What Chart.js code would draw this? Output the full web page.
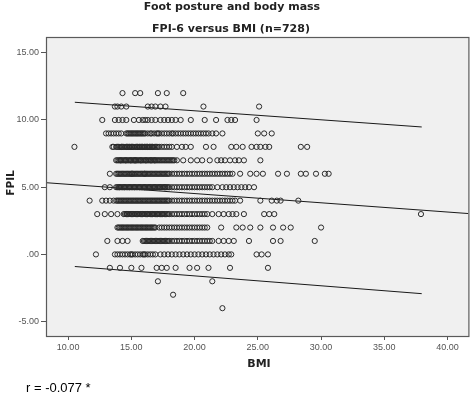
<!DOCTYPE html>
<html>
<head>
<meta charset="utf-8">
<script src="https://cdn.jsdelivr.net/npm/chart.js@4"></script>
<style>
  html, body { margin: 0; padding: 0; background: #ffffff; }
</style>
</head>
<body>
<canvas id="fpiBmiChart" width="472" height="393"></canvas>
<script>
// FPI-6 score levels, top row first
const fpiLevels = [12, 11, 10, 9, 8, 7, 6, 5, 4, 3, 2, 1, 0, -1, -2, -3, -4];

// BMI values
const bmiFpi12 = [14.3, 15.3, 15.7, 17.1, 17.8, 19.1];
const bmiFpi11 = [13.7, 13.9, 14.2, 14.6, 16.3, 16.6, 16.9, 17.3, 17.7, 20.7, 25.1];
const bmiFpi10 = [12.7, 13.7, 14.0, 14.3, 14.6, 15.2, 15.6, 15.9, 16.1, 16.3, 16.6, 16.9, 17.3, 17.6, 17.9,
  18.2, 18.5, 18.9, 19.7, 20.8, 21.7, 22.6, 22.9, 23.2, 24.9];
const bmiFpi9 = [13.0, 13.2, 13.4, 13.6, 13.8, 14.0, 14.2, 14.6, 14.7, 14.8, 14.9, 15.0, 15.1, 15.2, 15.3,
  15.4, 15.5, 15.6, 15.7, 15.8, 15.9, 16.0, 16.1, 16.3, 16.5, 16.6, 16.8, 17.0, 17.1, 17.2, 17.4, 17.6,
  17.8, 18.0, 18.2, 18.3, 18.5, 18.7, 18.9, 19.1, 19.3, 19.5, 19.7, 19.9, 20.1, 20.3, 20.5, 20.7, 20.9,
  21.1, 21.4, 21.7, 22.2, 25.0, 25.5, 26.1];
const bmiFpi8 = [10.5, 13.5, 13.6, 13.8, 13.9, 14.0, 14.1, 14.2, 14.25, 14.3, 14.4, 14.5, 14.6, 14.65, 14.7,
  14.8, 14.85, 14.9, 15.0, 15.05, 15.1, 15.2, 15.3, 15.4, 15.45, 15.5, 15.6, 15.65, 15.7, 15.8, 15.85, 15.9,
  16.0, 16.05, 16.1, 16.2, 16.25, 16.3, 16.4, 16.45, 16.5, 16.6, 16.65, 16.7, 16.8, 16.9, 17.0, 17.1, 17.2,
  17.4, 17.6, 17.8, 18.0, 18.2, 18.6, 19.0, 19.3, 19.7, 20.9, 21.5, 22.9, 23.3, 23.8, 24.5, 24.9, 25.2,
  25.6, 25.9, 28.4, 28.9];
const bmiFpi7 = [13.8, 13.9, 14.0, 14.1, 14.15, 14.2, 14.3, 14.4, 14.5, 14.55, 14.6, 14.7, 14.8, 14.9, 14.95,
  15.0, 15.1, 15.2, 15.25, 15.3, 15.35, 15.4, 15.5, 15.6, 15.7, 15.75, 15.8, 15.9, 16.0, 16.1, 16.15, 16.2,
  16.3, 16.4, 16.5, 16.55, 16.6, 16.7, 16.8, 16.85, 16.9, 17.0, 17.1, 17.2, 17.3, 17.4, 17.5, 17.6, 17.7,
  17.8, 17.9, 18.0, 18.1, 18.2, 18.3, 18.4, 18.6, 19.1, 19.7, 20.2, 20.6, 21.2, 21.8, 22.1, 22.4, 22.8,
  23.2, 23.5, 23.9, 25.2];
const bmiFpi6 = [13.3, 13.8, 13.9, 14.0, 14.1, 14.2, 14.3, 14.4, 14.5, 14.6, 14.7, 14.8, 14.9, 15.0, 15.05,
  15.1, 15.2, 15.3, 15.4, 15.5, 15.6, 15.7, 15.8, 15.9, 16.0, 16.05, 16.1, 16.2, 16.3, 16.4, 16.5, 16.6,
  16.7, 16.8, 16.9, 17.0, 17.1, 17.2, 17.3, 17.4, 17.5, 17.6, 17.7, 17.8, 17.9, 18.0, 18.2, 18.4, 18.6,
  18.8, 19.0, 19.2, 19.4, 19.6, 19.8, 20.0, 20.2, 20.4, 20.6, 20.8, 21.0, 21.2, 21.4, 21.6, 21.8, 22.0,
  22.2, 22.4, 22.6, 22.8, 23.0, 23.6, 24.4, 24.9, 25.4, 26.6, 27.3, 28.4, 28.8, 29.6, 30.3, 30.6];
const bmiFpi5 = [12.9, 13.3, 13.8, 13.9, 14.0, 14.05, 14.1, 14.2, 14.3, 14.4, 14.45, 14.5, 14.6, 14.7, 14.8,
  14.85, 14.9, 15.0, 15.1, 15.2, 15.25, 15.3, 15.4, 15.5, 15.6, 15.65, 15.7, 15.8, 15.9, 16.0, 16.05, 16.1,
  16.2, 16.3, 16.4, 16.45, 16.5, 16.6, 16.7, 16.8, 16.85, 16.9, 17.0, 17.1, 17.2, 17.25, 17.3, 17.4, 17.5,
  17.6, 17.65, 17.7, 17.8, 17.9, 18.0, 18.2, 18.4, 18.6, 18.8, 19.0, 19.2, 19.4, 19.6, 19.8, 20.0, 20.2,
  20.4, 20.6, 20.8, 21.0, 21.2, 21.4, 21.8, 22.2, 22.5, 22.8, 23.1, 23.4, 23.7, 24.0, 24.3, 24.7];
const bmiFpi4 = [11.7, 12.7, 13.0, 13.3, 13.6, 13.8, 13.9, 14.0, 14.1, 14.2, 14.3, 14.4, 14.5, 14.6, 14.7,
  14.8, 14.9, 15.0, 15.1, 15.2, 15.3, 15.4, 15.5, 15.6, 15.7, 15.8, 15.9, 16.0, 16.1, 16.2, 16.3, 16.4,
  16.5, 16.6, 16.7, 16.8, 16.9, 17.0, 17.1, 17.2, 17.3, 17.4, 17.5, 17.6, 17.7, 17.8, 17.9, 18.0, 18.2,
  18.4, 18.6, 18.8, 19.0, 19.2, 19.4, 19.6, 19.8, 20.0, 20.2, 20.4, 20.6, 20.8, 21.0, 21.2, 21.4, 21.6,
  21.8, 22.0, 22.2, 22.4, 22.6, 22.8, 23.0, 23.2, 23.6, 25.2, 26.1, 26.5, 26.8, 28.2];
const bmiFpi3 = [12.3, 12.9, 13.4, 13.9, 14.4, 14.5, 14.6, 14.65, 14.7, 14.8, 14.9, 15.0, 15.05, 15.1, 15.2,
  15.3, 15.4, 15.45, 15.5, 15.6, 15.7, 15.8, 15.85, 15.9, 16.0, 16.1, 16.2, 16.25, 16.3, 16.4, 16.5, 16.6,
  16.65, 16.7, 16.8, 16.9, 17.0, 17.05, 17.1, 17.2, 17.3, 17.4, 17.45, 17.5, 17.6, 17.7, 17.8, 17.9, 18.0,
  18.2, 18.4, 18.6, 18.8, 19.0, 19.2, 19.4, 19.6, 19.8, 20.0, 20.2, 20.4, 20.6, 20.8, 21.0, 21.4, 21.9,
  22.3, 22.7, 23.0, 23.3, 23.9, 25.5, 25.9, 26.3, 37.9];
const bmiFpi2 = [13.9, 14.0, 14.1, 14.2, 14.3, 14.4, 14.5, 14.6, 14.7, 14.8, 14.9, 15.0, 15.1, 15.2, 15.3,
  15.4, 15.5, 15.6, 15.7, 15.8, 15.9, 16.0, 16.1, 16.2, 16.3, 16.4, 16.5, 16.6, 16.7, 16.8, 16.9, 17.2,
  17.4, 17.6, 17.8, 18.0, 18.2, 18.4, 18.6, 18.8, 19.0, 19.2, 19.4, 19.6, 19.8, 20.0, 20.2, 20.4, 20.6,
  20.8, 21.0, 22.1, 23.3, 23.8, 24.4, 25.2, 26.2, 27.0, 27.6, 30.0];
const bmiFpi1 = [13.1, 13.9, 14.3, 14.7, 15.9, 16.0, 16.1, 16.2, 16.3, 16.4, 16.5, 16.6, 16.7, 16.8, 16.9,
  17.0, 17.1, 17.2, 17.3, 17.4, 17.5, 17.6, 17.7, 17.8, 17.9, 18.0, 18.2, 18.4, 18.6, 18.8, 19.0, 19.2,
  19.4, 19.6, 19.8, 20.0, 20.2, 20.4, 20.6, 20.8, 21.0, 21.2, 21.4, 21.9, 22.3, 22.7, 23.1, 24.3, 26.2,
  26.8, 29.5];
const bmiFpi0 = [12.2, 13.7, 13.9, 14.1, 14.3, 14.5, 14.7, 14.9, 15.0, 15.1, 15.3, 15.5, 15.7, 15.9, 16.0,
  16.1, 16.3, 16.5, 16.7, 16.9, 17.3, 17.6, 17.9, 18.2, 18.5, 18.8, 19.1, 19.4, 19.7, 20.0, 20.3, 20.6,
  20.9, 21.2, 21.5, 21.8, 22.1, 22.4, 22.7, 22.9, 24.9, 25.3, 25.8];
const bmiFpiM1 = [13.3, 14.1, 15.0, 15.8, 17.0, 17.4, 17.8, 18.5, 19.6, 20.2, 21.1, 22.8, 25.8];
const bmiFpiM2 = [17.1, 21.4];
const bmiFpiM3 = [18.3];
const bmiFpiM4 = [22.2];

const bmiRows = [bmiFpi12, bmiFpi11, bmiFpi10, bmiFpi9, bmiFpi8, bmiFpi7, bmiFpi6, bmiFpi5, bmiFpi4,
  bmiFpi3, bmiFpi2, bmiFpi1, bmiFpi0, bmiFpiM1, bmiFpiM2, bmiFpiM3, bmiFpiM4];

// fit line and 95% individual prediction interval end points
const fitBmi = [8.33, 41.65];
const fitFpi = [5.33, 3.04];
const upperBmi = [10.53, 37.96];
const upperFpi = [11.32, 9.48];
const lowerBmi = [10.53, 37.96];
const lowerFpi = [-0.9, -2.92];

const xTicks = [10, 15, 20, 25, 30, 35, 40];
const xTickLabels = ["10.00", "15.00", "20.00", "25.00", "30.00", "35.00", "40.00"];
const yTicks = [-5, 0, 5, 10, 15];
const yTickLabels = ["-5.00", ".00", "5.00", "10.00", "15.00"];

const chartTitle = "Foot posture and body mass";
const chartSubtitle = "FPI-6 versus BMI (n=728)";
const xAxisTitle = "BMI";
const yAxisTitle = "FPIL";
const footnote = "r = -0.077 *";

const scatterPoints = [];
fpiLevels.forEach((fpi, i) => {
  bmiRows[i].forEach((bmi) => scatterPoints.push({ x: bmi, y: fpi }));
});

function toPairs(xs, ys) {
  return xs.map((x, i) => ({ x: x, y: ys[i] }));
}

function lineDataset(xs, ys) {
  return {
    type: "line",
    data: toPairs(xs, ys),
    borderColor: "#1a1a1a",
    borderWidth: 1,
    pointRadius: 0,
    fill: false,
  };
}

const decorPlugin = {
  id: "decor",
  beforeDraw: function (chart) {
    const ctx = chart.ctx;
    const a = chart.chartArea;
    ctx.save();
    ctx.fillStyle = "#ffffff";
    ctx.fillRect(0, 0, chart.width, chart.height);
    ctx.fillStyle = "#f0f0f0";
    ctx.fillRect(a.left, a.top, a.right - a.left, a.bottom - a.top);
    ctx.restore();
  },
  afterDraw: function (chart) {
    const ctx = chart.ctx;
    const a = chart.chartArea;
    ctx.save();
    ctx.strokeStyle = "#5a5a5a";
    ctx.lineWidth = 1.2;
    ctx.strokeRect(a.left - 0.5, a.top - 0.5, a.right - a.left + 1, a.bottom - a.top + 1);

    ctx.fillStyle = "#222222";
    ctx.textAlign = "center";
    ctx.textBaseline = "alphabetic";
    ctx.font = "bold 11px 'DejaVu Sans'";
    ctx.fillText(chartTitle, 232, 9.5);
    ctx.fillText(chartSubtitle, 231, 32.3);

    ctx.font = "bold 11px 'DejaVu Sans'";
    ctx.textBaseline = "middle";
    ctx.fillText(xAxisTitle, 259, 364);

    ctx.save();
    ctx.translate(11, 183);
    ctx.rotate(-Math.PI / 2);
    ctx.font = "bold 10.5px 'DejaVu Sans'";
    ctx.fillText(yAxisTitle, 0, 0);
    ctx.restore();

    ctx.fillStyle = "#000000";
    ctx.textAlign = "left";
    ctx.textBaseline = "alphabetic";
    ctx.font = "13px 'Liberation Sans'";
    ctx.fillText(footnote, 26, 392);
    ctx.restore();
  },
};

const ctx = document.getElementById("fpiBmiChart").getContext("2d");
new Chart(ctx, {
  type: "scatter",
  data: {
    datasets: [
      {
        data: scatterPoints,
        pointStyle: "circle",
        pointRadius: 2.6,
        pointHoverRadius: 2.6,
        backgroundColor: "rgba(0, 0, 0, 0)",
        borderColor: "#2b2b2b",
        borderWidth: 1,
      },
      lineDataset(fitBmi, fitFpi),
      lineDataset(upperBmi, upperFpi),
      lineDataset(lowerBmi, lowerFpi),
    ],
  },
  options: {
    responsive: false,
    animation: false,
    devicePixelRatio: 1,
    layout: {
      padding: { top: 38, right: 1, bottom: 0, left: 0 },
    },
    plugins: {
      legend: { display: false },
      tooltip: { enabled: false },
    },
    scales: {
      x: {
        type: "linear",
        min: 8.33,
        max: 41.65,
        afterBuildTicks: function (scale) {
          scale.ticks = xTicks.map((v) => ({ value: v }));
        },
        afterFit: function (scale) {
          scale.height = 57;
        },
        border: { display: false },
        grid: {
          drawOnChartArea: false,
          drawTicks: true,
          tickLength: 4,
          color: "#555555",
        },
        ticks: {
          autoSkip: false,
          maxRotation: 0,
          padding: 2,
          color: "#555555",
          font: { family: "'Liberation Sans'", size: 9 },
          callback: function (value, index) {
            return xTickLabels[index];
          },
        },
      },
      y: {
        type: "linear",
        min: -6.07,
        max: 16.1,
        afterBuildTicks: function (scale) {
          scale.ticks = yTicks.map((v) => ({ value: v }));
        },
        afterFit: function (scale) {
          scale.width = 47;
        },
        border: { display: false },
        grid: {
          drawOnChartArea: false,
          drawTicks: true,
          tickLength: 6,
          color: "#555555",
        },
        ticks: {
          autoSkip: false,
          padding: 2,
          color: "#555555",
          font: { family: "'Liberation Sans'", size: 9 },
          callback: function (value, index) {
            return yTickLabels[index];
          },
        },
      },
    },
  },
  plugins: [decorPlugin],
});
</script>
</body>
</html>
